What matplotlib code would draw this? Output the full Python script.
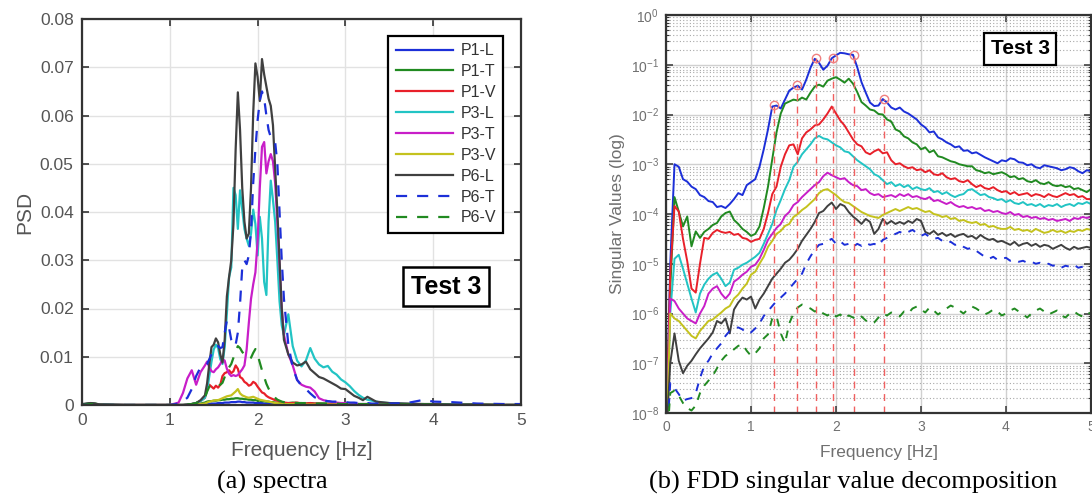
import numpy as np
import matplotlib
matplotlib.use("Agg")
import matplotlib.pyplot as plt
from matplotlib.ticker import LogLocator, NullFormatter

plt.rcParams['font.family'] = ['Liberation Sans', 'DejaVu Sans']

# ---------------- (a) spectra: PSD values ----------------
freq_a = [0.0, 0.1, 0.15, 0.2, 0.5, 1.0, 1.1, 1.15, 1.2, 1.25, 1.3, 1.35,
          1.4, 1.425, 1.45, 1.475, 1.5, 1.525, 1.55, 1.575, 1.6, 1.625,
          1.65, 1.675, 1.7, 1.725, 1.75, 1.775, 1.8, 1.825, 1.85, 1.875,
          1.9, 1.925, 1.95, 1.975, 2.0, 2.025, 2.05, 2.075, 2.1, 2.125,
          2.15, 2.175, 2.2, 2.225, 2.25, 2.275, 2.3,
          2.35, 2.4, 2.45, 2.5, 2.55, 2.6, 2.65, 2.7, 2.75, 2.8,
          2.85, 2.9, 2.95, 3.0, 3.05, 3.1, 3.15, 3.2, 3.25, 3.3,
          3.35, 3.4, 3.5, 3.7, 3.9, 4.0, 4.2, 4.5, 4.8, 5.0]

p1_l = [0.0001, 0.0003, 0.0002, 0.0001, 0, 0, 0, 0, 0, 0, 0.0001, 0.0001,
        0.0001, 0.0002, 0.0002, 0.0003, 0.0003, 0.0003, 0.0004, 0.0004, 0.0004, 0.0005,
        0.0005, 0.0005, 0.0006, 0.0006, 0.0006, 0.0007, 0.0007, 0.0006, 0.0006, 0.0005,
        0.0005, 0.0005, 0.0005, 0.0004, 0.0004, 0.0004, 0.0004, 0.0003, 0.0003, 0.0003,
        0.0003, 0.0002, 0.0002, 0.0002, 0.0002, 0.0002, 0.0002,
        0.0002, 0.0002, 0.0001, 0.0001, 0.0001, 0.0001, 0.0001, 0.0001, 0.0001, 0.0001,
        0.0001, 0.0001, 0.0001, 0.0001, 0.0001, 0, 0, 0, 0, 0,
        0, 0, 0, 0, 0, 0, 0, 0, 0, 0]

p1_t = [0.0001, 0.0004, 0.0003, 0.0001, 0, 0, 0, 0, 0, 0.0001, 0.0002, 0.0003,
        0.0005, 0.0007, 0.0008, 0.0008, 0.0009, 0.0009, 0.001, 0.001, 0.0011, 0.0011,
        0.0012, 0.0012, 0.0013, 0.0013, 0.0014, 0.0014, 0.0013, 0.0013, 0.0012, 0.0012,
        0.0011, 0.0011, 0.001, 0.001, 0.0009, 0.0009, 0.0008, 0.0008, 0.0007, 0.0007,
        0.0006, 0.0006, 0.0005, 0.0005, 0.0005, 0.0004, 0.0004,
        0.0004, 0.0005, 0.0004, 0.0004, 0.0003, 0.0004, 0.0003, 0.0003, 0.0003, 0.0003,
        0.0002, 0.0003, 0.0002, 0.0002, 0.0002, 0.0002, 0.0002, 0.0001, 0.0002, 0.0001,
        0.0002, 0.0001, 0.0001, 0.0002, 0.0001, 0.0001, 0.0001, 0.0001, 0, 0]

p1_v = [0, 0.0001, 0, 0, 0, 0, 0, 0, 0.0001, 0.0002, 0.0004, 0.0008,
        0.0015, 0.0032, 0.0042, 0.0038, 0.0034, 0.004, 0.0036, 0.0042, 0.006, 0.0066,
        0.0068, 0.0072, 0.0066, 0.007, 0.0082, 0.0075, 0.0058, 0.0055, 0.0048, 0.0045,
        0.004, 0.0042, 0.0048, 0.0045, 0.0038, 0.0032, 0.0026, 0.0024, 0.0019, 0.0016,
        0.0014, 0.0012, 0.001, 0.0009, 0.0008, 0.0006, 0.0005,
        0.0004, 0.0004, 0.0005, 0.0003, 0.0003, 0.0004, 0.0003, 0.0003, 0.0002, 0.0002,
        0.0002, 0.0002, 0.0002, 0.0002, 0.0002, 0.0001, 0.0001, 0.0001, 0.0001, 0.0001,
        0.0001, 0.0001, 0.0001, 0.0001, 0, 0, 0, 0, 0, 0]

p3_l = [0, 0.0002, 0.0001, 0, 0, 0, 0, 0, 0.0001, 0.0002, 0.0004, 0.0008,
        0.0015, 0.003, 0.006, 0.009, 0.0115, 0.0125, 0.0118, 0.0095, 0.0085, 0.012,
        0.019, 0.0265, 0.0285, 0.045, 0.0435, 0.0365, 0.0445, 0.0405, 0.0365, 0.0345,
        0.033, 0.0355, 0.0405, 0.0375, 0.031, 0.039, 0.0345, 0.0255, 0.0228, 0.038,
        0.0465, 0.0425, 0.038, 0.03, 0.0215, 0.0165, 0.0145,
        0.0188, 0.0122, 0.0092, 0.008, 0.0092, 0.0118, 0.0096, 0.0084, 0.0078, 0.0081,
        0.0069, 0.0063, 0.0053, 0.0047, 0.0039, 0.0029, 0.0021, 0.0015, 0.0011, 0.0009,
        0.0007, 0.0005, 0.0004, 0.0002, 0.0001, 0.0001, 0.0001, 0, 0, 0]

p3_t = [0, 0, 0, 0, 0, 0, 0.0005, 0.0025, 0.0055, 0.0072, 0.0042, 0.0068,
        0.0082, 0.009, 0.0078, 0.007, 0.0068, 0.0074, 0.0078, 0.0085, 0.0095, 0.0092,
        0.0075, 0.0065, 0.006, 0.0062, 0.006, 0.0062, 0.0068, 0.0074, 0.0082, 0.0115,
        0.017, 0.022, 0.025, 0.0275, 0.034, 0.045, 0.0535, 0.0545, 0.048, 0.0505,
        0.052, 0.0505, 0.046, 0.038, 0.029, 0.02, 0.0145,
        0.0105, 0.0082, 0.0052, 0.0042, 0.0038, 0.0036, 0.0028, 0.0014, 0.001, 0.0008,
        0.0006, 0.0005, 0.0004, 0.0004, 0.0003, 0.0003, 0.0002, 0.0002, 0.0002, 0.0001,
        0.0001, 0.0001, 0.0001, 0.0001, 0, 0, 0, 0, 0, 0]

p3_v = [0, 0, 0, 0, 0, 0, 0, 0, 0, 0, 0.0001, 0.0002,
        0.0003, 0.0005, 0.0007, 0.0008, 0.0009, 0.001, 0.001, 0.0012, 0.0014, 0.0016,
        0.0018, 0.0019, 0.002, 0.0024, 0.0028, 0.0033, 0.0024, 0.002, 0.0018, 0.0016,
        0.0015, 0.0016, 0.0017, 0.0015, 0.0013, 0.0011, 0.001, 0.0009, 0.0008, 0.0007,
        0.0006, 0.0005, 0.0004, 0.0004, 0.0003, 0.0003, 0.0002,
        0.0002, 0.0002, 0.0002, 0.0001, 0.0001, 0.0001, 0.0001, 0.0001, 0.0001, 0.0001,
        0.0001, 0.0001, 0.0001, 0.0001, 0.0001, 0, 0, 0, 0, 0,
        0, 0, 0, 0, 0, 0, 0, 0, 0, 0]

p6_l = [0.0002, 0.0004, 0.0003, 0.0001, 0, 0, 0, 0, 0.0001, 0.0002, 0.0004, 0.001,
        0.002, 0.0045, 0.0085, 0.012, 0.0125, 0.0138, 0.013, 0.0105, 0.0088, 0.0135,
        0.0225, 0.0265, 0.03, 0.0375, 0.053, 0.0648, 0.057, 0.045, 0.038, 0.0345,
        0.0355, 0.045, 0.0605, 0.0708, 0.068, 0.063, 0.0717, 0.0685, 0.066, 0.0635,
        0.062, 0.058, 0.049, 0.04, 0.03, 0.02, 0.0135,
        0.0105, 0.0088, 0.0082, 0.0084, 0.009, 0.0074, 0.0066, 0.0058, 0.0055, 0.005,
        0.0045, 0.004, 0.0034, 0.0033, 0.0026, 0.0019, 0.0015, 0.001, 0.0017, 0.0012,
        0.0007, 0.0006, 0.0004, 0.0003, 0.0002, 0.0002, 0.0001, 0.0001, 0, 0]

p6_t = [0, 0.0001, 0.0001, 0, 0, 0, 0.0003, 0.0008, 0.0015, 0.0033, 0.006, 0.0078,
        0.008, 0.0085, 0.0095, 0.0105, 0.0115, 0.012, 0.0122, 0.0118, 0.012, 0.015,
        0.0175, 0.016, 0.0135, 0.0122, 0.0125, 0.015, 0.021, 0.0285, 0.03, 0.0292,
        0.031, 0.036, 0.046, 0.053, 0.059, 0.063, 0.065, 0.0635, 0.06, 0.057,
        0.0555, 0.055, 0.0545, 0.05, 0.04, 0.03, 0.022,
        0.0125, 0.0078, 0.0052, 0.004, 0.0033, 0.0024, 0.0016, 0.0012, 0.0009, 0.0008,
        0.0007, 0.0007, 0.0006, 0.0006, 0.0005, 0.0005, 0.0004, 0.0004, 0.0004, 0.0003,
        0.0003, 0.0003, 0.0003, 0.0004, 0.0011, 0.0007, 0.0006, 0.0003, 0.0002, 0.0002]

p6_v = [0, 0.0002, 0.0001, 0, 0, 0, 0, 0, 0.0001, 0.0002, 0.0004, 0.0008,
        0.0015, 0.0028, 0.0038, 0.004, 0.0038, 0.0036, 0.004, 0.0042, 0.0046, 0.0058,
        0.007, 0.0078, 0.0085, 0.0098, 0.0112, 0.0122, 0.0118, 0.011, 0.0105, 0.0098,
        0.0095, 0.0098, 0.0108, 0.0116, 0.0104, 0.0088, 0.0072, 0.0058, 0.0044, 0.0034,
        0.0026, 0.002, 0.0015, 0.0011, 0.0009, 0.0007, 0.0006,
        0.0005, 0.0005, 0.0004, 0.0004, 0.0004, 0.0003, 0.0003, 0.0003, 0.0003, 0.0003,
        0.0003, 0.0003, 0.0002, 0.0002, 0.0002, 0.0002, 0.0002, 0.0002, 0.0002, 0.0001,
        0.0001, 0.0001, 0.0001, 0.0001, 0.0001, 0.0001, 0, 0, 0, 0]

labels_a = ['P1-L', 'P1-T', 'P1-V', 'P3-L', 'P3-T', 'P3-V', 'P6-L', 'P6-T', 'P6-V']

# ---------------- (b) FDD singular values (log10), 0-5 Hz every 0.05 Hz ----------------
freq_b = np.round(np.arange(0, 5.001, 0.05), 2)

sv1_exp = [-8.5, -5.0, -3.0, -3.05, -3.3, -3.35, -3.45, -3.5, -3.62, -3.66,
           -3.74, -3.76, -3.86, -3.84, -3.88, -3.8, -3.7, -3.58, -3.62, -3.42,
           -3.36, -3.3, -3.05, -2.7, -2.3, -1.84, -1.82, -1.88, -1.7, -1.52,
           -1.46, -1.42, -1.5, -1.3, -1.06, -0.88, -0.96, -1.1, -1.02, -0.87,
           -0.81, -0.76, -0.77, -0.79, -0.8, -1.05, -1.35, -1.56, -1.76, -1.83,
           -1.82, -1.69, -1.76, -1.86, -1.9, -1.86, -1.94, -1.98, -2.04, -2.1,
           -2.2, -2.26, -2.36, -2.34, -2.46, -2.5, -2.56, -2.6, -2.66, -2.64,
           -2.73, -2.72, -2.78, -2.76, -2.81, -2.86, -2.9, -2.94, -2.98, -2.92,
           -2.94, -2.88, -2.9, -2.96, -2.97, -3.02, -3.0, -3.06, -3.08, -3.02,
           -3.04, -3.06, -3.08, -3.12, -3.1, -3.06, -3.08, -3.14, -3.18, -3.12,
           -3.14]

sv2_exp = [-8.6, -5.5, -3.66, -3.95, -4.25, -4.05, -4.65, -4.35, -4.48, -4.36,
           -4.3, -4.22, -4.18, -4.05, -3.98, -3.95, -4.12, -4.2, -4.3, -4.36,
           -4.44, -4.4, -4.25, -3.88, -3.45, -2.9, -2.36, -1.98, -1.78, -1.74,
           -1.7, -1.72, -1.66, -1.7, -1.56, -1.44, -1.4, -1.44, -1.32, -1.28,
           -1.25, -1.3, -1.36, -1.28, -1.38, -1.55, -1.75, -1.82, -1.9, -1.92,
           -1.99, -2.0, -2.1, -2.14, -2.3, -2.34, -2.44, -2.48, -2.56, -2.6,
           -2.7, -2.66, -2.76, -2.72, -2.84, -2.86, -2.9, -2.94, -2.96, -3.0,
           -3.02, -3.04, -3.04, -3.12, -3.14, -3.18, -3.16, -3.2, -3.18, -3.16,
           -3.2, -3.26, -3.24, -3.3, -3.28, -3.34, -3.36, -3.32, -3.38, -3.4,
           -3.36, -3.42, -3.44, -3.42, -3.46, -3.44, -3.5, -3.48, -3.52, -3.56,
           -3.5]

sv3_exp = [-8.6, -5.2, -3.84, -3.95, -4.5, -4.95, -5.5, -5.58, -5.0, -4.48,
           -4.5, -4.38, -4.32, -4.36, -4.38, -4.36, -4.42, -4.4, -4.48, -4.5,
           -4.56, -4.52, -4.5, -4.3, -3.98, -3.6, -3.45, -3.05, -2.8, -2.62,
           -2.6, -2.8, -2.48, -2.36, -2.3, -2.22, -2.2, -2.1, -1.98, -1.84,
           -1.98, -2.12, -2.22, -2.36, -2.5, -2.6, -2.64, -2.76, -2.8, -2.74,
           -2.7, -2.78, -2.76, -2.92, -3.0, -2.98, -3.04, -3.08, -3.06, -3.12,
           -3.1, -3.16, -3.12, -3.2, -3.22, -3.18, -3.26, -3.3, -3.28, -3.34,
           -3.36, -3.32, -3.4, -3.46, -3.42, -3.48, -3.5, -3.46, -3.52, -3.56,
           -3.54, -3.6, -3.56, -3.62, -3.6, -3.58, -3.64, -3.6, -3.62, -3.66,
           -3.6, -3.64, -3.66, -3.62, -3.58, -3.62, -3.6, -3.66, -3.64, -3.7,
           -3.7]

sv4_exp = [-8.8, -6.0, -4.9, -4.82, -5.1, -5.4, -5.7, -5.98, -5.6, -5.42,
           -5.3, -5.22, -5.18, -5.3, -5.45, -5.38, -5.12, -5.08, -5.02, -4.98,
           -4.92, -4.86, -4.78, -4.6, -4.4, -4.2, -3.92, -3.72, -3.5, -3.32,
           -3.05, -2.95, -2.8, -2.7, -2.6, -2.48, -2.43, -2.48, -2.5, -2.56,
           -2.62, -2.66, -2.74, -2.76, -2.84, -2.92, -2.98, -3.04, -3.1, -3.2,
           -3.24, -3.32, -3.4, -3.36, -3.44, -3.4, -3.46, -3.42, -3.5, -3.46,
           -3.5, -3.52, -3.48, -3.56, -3.54, -3.6, -3.56, -3.62, -3.66, -3.62,
           -3.6, -3.52, -3.5, -3.56, -3.62, -3.6, -3.66, -3.68, -3.72, -3.7,
           -3.76, -3.72, -3.78, -3.8, -3.76, -3.82, -3.8, -3.84, -3.8, -3.86,
           -3.82, -3.84, -3.8, -3.86, -3.82, -3.8, -3.84, -3.78, -3.8, -3.76,
           -3.8]

sv5_exp = [-8.8, -5.7, -5.75, -5.9, -6.0, -6.1, -6.15, -6.2, -6.0, -5.85,
           -5.6, -5.5, -5.45, -5.6, -5.7, -5.6, -5.36, -5.3, -5.22, -5.16,
           -5.06, -5.02, -4.9, -4.72, -4.52, -4.4, -4.28, -4.2, -4.04, -3.96,
           -3.82, -3.76, -3.66, -3.58, -3.5, -3.42, -3.36, -3.24, -3.17, -3.22,
           -3.26, -3.3, -3.28, -3.36, -3.42, -3.44, -3.52, -3.5, -3.58, -3.62,
           -3.6, -3.66, -3.64, -3.62, -3.66, -3.6, -3.64, -3.6, -3.66, -3.64,
           -3.68, -3.7, -3.66, -3.74, -3.72, -3.76, -3.8, -3.76, -3.82, -3.86,
           -3.84, -3.88, -3.86, -3.9, -3.88, -3.94, -3.92, -3.96, -3.94, -3.98,
           -4.0, -3.96, -4.02, -4.0, -4.06, -4.04, -4.08, -4.06, -4.1, -4.08,
           -4.12, -4.1, -4.14, -4.12, -4.1, -4.14, -4.08, -4.1, -4.06, -4.08,
           -4.06]

sv6_exp = [-8.9, -6.0, -6.1, -6.15, -6.25, -6.35, -6.45, -6.5, -6.35, -6.25,
           -6.15, -6.12, -6.05, -5.98, -5.9, -5.85, -5.7, -5.62, -5.5, -5.4,
           -5.22, -5.16, -5.0, -4.86, -4.66, -4.54, -4.4, -4.34, -4.24, -4.2,
           -4.06, -4.0, -3.92, -3.86, -3.78, -3.7, -3.58, -3.52, -3.5, -3.56,
           -3.62, -3.7, -3.76, -3.78, -3.84, -3.9, -3.96, -4.0, -4.04, -4.06,
           -4.08, -4.02, -3.98, -3.94, -3.9, -3.94, -3.9, -3.86, -3.9, -3.88,
           -3.92, -3.96, -3.94, -4.0, -4.02, -4.06, -4.04, -4.1, -4.08, -4.14,
           -4.12, -4.16, -4.18, -4.16, -4.22, -4.2, -4.26, -4.24, -4.28, -4.3,
           -4.3, -4.26, -4.32, -4.3, -4.34, -4.32, -4.36, -4.3, -4.34, -4.38,
           -4.36, -4.32, -4.36, -4.34, -4.38, -4.34, -4.36, -4.32, -4.34, -4.3,
           -4.32]

sv7_exp = [-8.6, -7.0, -6.4, -6.95, -7.2, -7.05, -6.95, -6.82, -6.7, -6.6,
           -6.5, -6.38, -6.15, -6.2, -6.1, -6.4, -5.92, -5.78, -5.68, -5.72,
           -5.66, -5.9, -5.72, -5.6, -5.45, -5.3, -5.2, -5.1, -4.98, -4.92,
           -4.82, -4.7, -4.54, -4.42, -4.3, -4.16, -3.98, -3.94, -3.84, -3.77,
           -3.9, -3.8, -3.84, -3.96, -4.05, -4.12, -4.2, -4.1, -4.16, -4.4,
           -4.3, -4.1, -4.2, -4.14, -4.2, -4.16, -4.2, -4.14, -4.18, -4.1,
           -4.14, -4.36, -4.4, -4.34, -4.42, -4.38, -4.44, -4.4, -4.46, -4.42,
           -4.4, -4.46, -4.44, -4.5, -4.42, -4.48, -4.52, -4.5, -4.56, -4.54,
           -4.58, -4.62, -4.56, -4.64, -4.6, -4.58, -4.64, -4.6, -4.66, -4.62,
           -4.64, -4.7, -4.66, -4.62, -4.68, -4.72, -4.66, -4.7, -4.68, -4.66,
           -4.68]

sv8_exp = [-8.8, -7.4, -7.5, -7.62, -7.75, -7.72, -7.7, -7.6, -7.3, -7.05,
           -6.95, -6.8, -6.7, -6.6, -6.45, -6.35, -6.3, -6.28, -6.32, -6.4,
           -6.38, -6.3, -6.2, -6.05, -5.95, -5.85, -5.75, -5.68, -5.6, -5.5,
           -5.4, -5.3, -5.2, -5.0, -4.85, -4.72, -4.62, -4.6, -4.54, -4.5,
           -4.6, -4.55, -4.62, -4.6, -4.66, -4.6, -4.64, -4.58, -4.62, -4.6,
           -4.64, -4.52, -4.48, -4.44, -4.4, -4.36, -4.4, -4.36, -4.32, -4.38,
           -4.44, -4.4, -4.46, -4.5, -4.48, -4.54, -4.58, -4.56, -4.62, -4.6,
           -4.66, -4.7, -4.68, -4.74, -4.8, -4.86, -4.9, -4.86, -4.92, -4.9,
           -4.88, -4.94, -4.92, -4.96, -4.94, -4.98, -4.96, -5.0, -4.98, -5.02,
           -5.0, -5.04, -5.02, -5.08, -5.04, -5.06, -5.02, -5.08, -5.06, -5.04,
           -5.06]

sv9_exp = [-8.9, -7.6, -7.55, -7.65, -7.8, -7.9, -7.95, -7.85, -7.6, -7.45,
           -7.35, -7.25, -7.1, -6.95, -6.85, -6.8, -6.72, -6.65, -6.62, -6.75,
           -6.85, -6.8, -6.7, -6.5, -6.42, -6.1, -6.05, -6.4, -6.6, -6.2,
           -6.0, -5.88, -5.82, -5.86, -5.9, -5.96, -5.92, -6.0, -6.04, -5.98,
           -6.06, -6.02, -6.1, -6.04, -6.08, -6.12, -6.06, -6.14, -6.2, -6.18,
           -6.08, -6.0, -6.04, -5.98, -6.02, -6.06, -5.96, -6.0, -5.9, -5.86,
           -5.92, -5.98, -5.88, -5.94, -6.02, -5.96, -5.9, -5.84, -5.88, -5.94,
           -6.0, -5.92, -5.86, -5.9, -5.96, -6.02, -5.98, -5.92, -5.96, -6.04,
           -6.0, -5.94, -5.9, -5.96, -6.02, -6.08, -6.0, -5.94, -5.9, -5.96,
           -6.02, -5.98, -5.94, -6.04, -6.08, -6.0, -5.96, -6.02, -6.06, -5.98,
           -6.0]

# picked peaks on the first singular value
peak_f = [1.27, 1.54, 1.77, 1.97, 2.21, 2.57]
peak_sv = [1.55e-2, 3.9e-2, 1.35e-1, 1.35e-1, 1.6e-1, 2.05e-2]

colors = ['#1c2fd8', '#218a21', '#e8202a', '#22c4c4', '#c81ec8', '#c4c21e',
          '#404040', '#1c2fd8', '#218a21']
styles = ['-', '-', '-', '-', '-', '-', '-', '--', '--']

fig = plt.figure(figsize=(10.92, 4.99), dpi=100)

tick_col = '#555555'

# ---------------- left panel ----------------
ax1 = fig.add_axes([82 / 1092, 1 - 405 / 499, 439 / 1092, 386 / 499])
series_a = [p1_l, p1_t, p1_v, p3_l, p3_t, p3_v, p6_l, p6_t, p6_v]
for vals, lab, c, ls in zip(series_a, labels_a, colors, styles):
    if ls == '--':
        ax1.plot(freq_a, vals, color=c, lw=1.6, dashes=(5, 4.5), label=lab)
    else:
        ax1.plot(freq_a, vals, color=c, lw=1.6, label=lab)
ax1.set_xlim(0, 5)
ax1.set_ylim(0, 0.08)
ax1.set_xticks([0, 1, 2, 3, 4, 5])
ax1.set_yticks([0, 0.01, 0.02, 0.03, 0.04, 0.05, 0.06, 0.07, 0.08])
ax1.set_yticklabels(['0', '0.01', '0.02', '0.03', '0.04', '0.05', '0.06', '0.07', '0.08'])
ax1.grid(True, color='#e2e2e2', lw=1.0)
ax1.tick_params(direction='in', length=5, width=1.2, top=True, right=True,
                labelsize=12.5, labelcolor=tick_col, colors='#333333', pad=6)
for s in ax1.spines.values():
    s.set_linewidth(1.6)
    s.set_color('#333333')
ax1.set_xlabel('Frequency [Hz]', fontsize=15, color=tick_col, labelpad=9)
ax1.set_ylabel('PSD', fontsize=15, color=tick_col, labelpad=4)
leg = ax1.legend(loc='upper right', bbox_to_anchor=(0.959, 0.956), borderaxespad=0,
                 fontsize=11.5, handlelength=3.6, handletextpad=0.45,
                 labelspacing=0.37, borderpad=0.45, fancybox=False, framealpha=1)
leg.get_frame().set_edgecolor('black')
leg.get_frame().set_linewidth(1.6)
for t in leg.get_texts():
    t.set_color('#333333')
ax1.text(0.829, 0.306, 'Test 3', transform=ax1.transAxes, ha='center', va='center',
         fontsize=18, fontweight='bold', color='black',
         bbox=dict(boxstyle='square,pad=0.3', fc='white', ec='black', lw=1.8))

# ---------------- right panel ----------------
ax2 = fig.add_axes([666 / 1092, 1 - 413 / 499, 425 / 1092, 398 / 499])
series_b = [sv1_exp, sv2_exp, sv3_exp, sv4_exp, sv5_exp, sv6_exp, sv7_exp, sv8_exp, sv9_exp]
for vals, c, ls in zip(series_b, colors, styles):
    yv = 10.0 ** np.array(vals)
    if ls == '--':
        ax2.plot(freq_b, yv, color=c, lw=1.4, dashes=(4, 4))
    else:
        ax2.plot(freq_b, yv, color=c, lw=1.4)
ax2.vlines(peak_f, 1e-8, peak_sv, colors='#f06060', linestyles=(0, (5, 4)), lw=1.0)
ax2.plot(peak_f, peak_sv, 'o', mfc='none', mec='#f08080', ms=6, mew=1.0)
ax2.set_yscale('log')
ax2.set_xlim(0, 5)
ax2.set_ylim(1e-8, 1)
ax2.set_xticks([0, 1, 2, 3, 4, 5])
ax2.yaxis.set_major_locator(LogLocator(base=10, numticks=12))
ax2.yaxis.set_minor_locator(LogLocator(base=10, subs=np.arange(2, 10), numticks=12))
ax2.yaxis.set_minor_formatter(NullFormatter())
ax2.grid(True, which='major', color='#d0d0d0', lw=1.0)
ax2.grid(True, which='minor', axis='y', color='#a8a8a8', lw=0.8, linestyle=(0, (1, 2)))
ax2.tick_params(which='both', direction='in', top=True, right=True, colors='#333333',
                labelcolor='#707070')
ax2.tick_params(which='major', length=5, width=1.1, labelsize=10, pad=5)
ax2.tick_params(which='minor', length=2.5, width=0.8)
for s in ax2.spines.values():
    s.set_linewidth(1.6)
    s.set_color('#333333')
ax2.set_xlabel('Frequency [Hz]', fontsize=12.5, color='#707070', labelpad=8)
ax2.set_ylabel('Singular Values (log)', fontsize=12.5, color='#707070', labelpad=4)
ax2.text(0.833, 0.915, 'Test 3', transform=ax2.transAxes, ha='center', va='center',
         fontsize=15, fontweight='bold', color='black',
         bbox=dict(boxstyle='square,pad=0.3', fc='white', ec='black', lw=1.6))

# captions
fig.text(272 / 1092, 1 - 482 / 499, '(a) spectra', ha='center', va='center',
         fontsize=19, family='Liberation Serif')
fig.text(853 / 1092, 1 - 482 / 499, '(b) FDD singular value decomposition', ha='center',
         va='center', fontsize=19, family='Liberation Serif')

fig.savefig('out.png', dpi=100, facecolor='white')
